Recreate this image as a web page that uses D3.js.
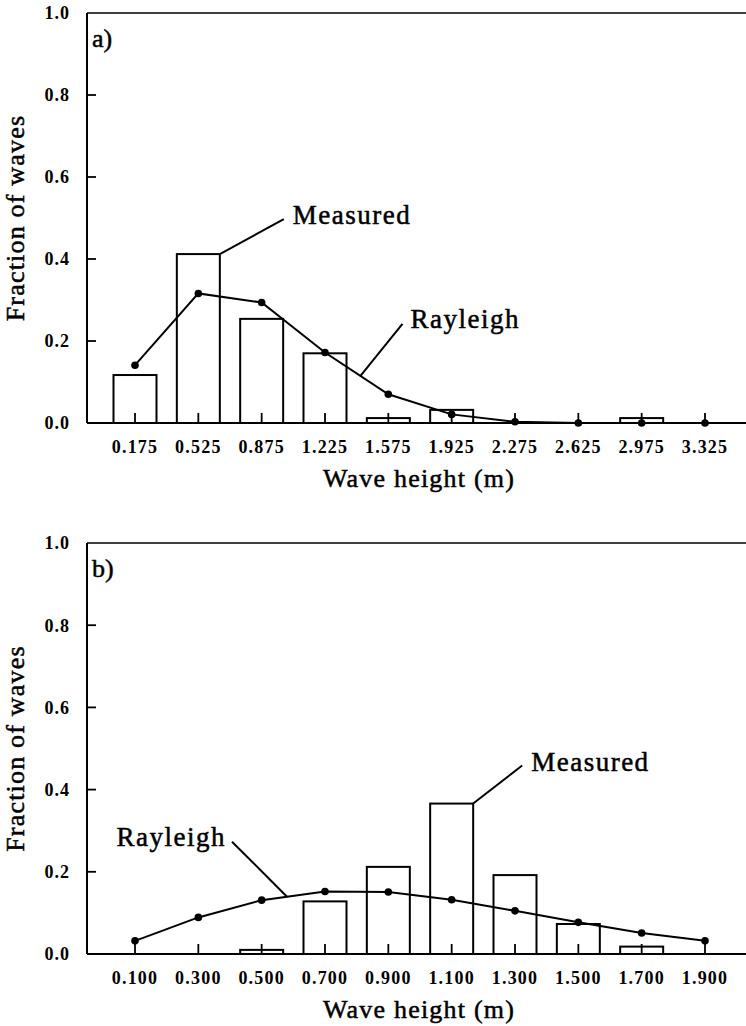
<!DOCTYPE html>
<html>
<head>
<meta charset="utf-8">
<script src="https://cdn.jsdelivr.net/npm/d3@7"></script>
<style>
  body { margin: 0; background: #fff; }
  svg text { font-family: "Liberation Serif", "Times New Roman", serif; fill: #000; }
  svg text.heavy { stroke: #000; stroke-width: 0.5px; }
</style>
</head>
<body>
<div id="chart"></div>
<script>
// panel a) data
const catsA = ["0.175", "0.525", "0.875", "1.225", "1.575", "1.925", "2.275", "2.625", "2.975", "3.325"];
const measuredA = [0.117, 0.412, 0.254, 0.170, 0.012, 0.032, 0, 0, 0.012, 0];
const rayleighA = [0.141, 0.316, 0.294, 0.172, 0.070, 0.021, 0.003, 0.0, 0.0, 0.0];

// panel b) data
const catsB = ["0.100", "0.300", "0.500", "0.700", "0.900", "1.100", "1.300", "1.500", "1.700", "1.900"];
const measuredB = [0, 0, 0.010, 0.128, 0.212, 0.366, 0.192, 0.073, 0.018, 0];
const rayleighB = [0.032, 0.089, 0.131, 0.152, 0.151, 0.132, 0.105, 0.077, 0.051, 0.032];

const yTicks = [0, 0.2, 0.4, 0.6, 0.8, 1.0];

const W = 746, H = 1026;
const svg = d3.select("#chart").append("svg")
    .attr("width", W)
    .attr("height", H);

drawPanel({
    top: 13, bottom: 423, label: "a)",
    cats: catsA, measured: measuredA, rayleigh: rayleighA,
    measuredNote: {dx: 64, dy: -35},
    rayleighNote: {seg: 3, t: 0.56, dx: 42, dy: -52, side: "right"}
});

drawPanel({
    top: 543, bottom: 954, label: "b)",
    cats: catsB, measured: measuredB, rayleigh: rayleighB,
    measuredNote: {dx: 49, dy: -38},
    rayleighNote: {seg: 2, t: 0.4, dx: -55, dy: -55, side: "left"}
});

function drawPanel(p) {
    const left = 87, right = W;
    const barW = 43;

    const g = svg.append("g");

    const x = d3.scalePoint()
        .domain(p.cats)
        .range([135, 705]);

    const y = d3.scaleLinear()
        .domain([0, 1])
        .range([p.bottom, p.top]);

    // bars (measured)
    g.selectAll(".bar")
        .data(p.measured)
        .enter().append("rect")
        .attr("class", "bar")
        .attr("x", (d, i) => x(p.cats[i]) - barW / 2)
        .attr("y", d => y(d))
        .attr("width", barW)
        .attr("height", d => y(0) - y(d))
        .attr("fill", "none")
        .attr("stroke", "#000")
        .attr("stroke-width", 2);

    // category ticks on the x axis (pointing up)
    g.selectAll(".xtick")
        .data(p.cats)
        .enter().append("line")
        .attr("x1", d => x(d)).attr("x2", d => x(d))
        .attr("y1", y(0)).attr("y2", y(0) - 10)
        .attr("stroke", "#000").attr("stroke-width", 1.8);

    // rayleigh line + dots
    const line = d3.line()
        .x((d, i) => x(p.cats[i]))
        .y(d => y(d));

    g.append("path")
        .datum(p.rayleigh)
        .attr("d", line)
        .attr("fill", "none")
        .attr("stroke", "#000")
        .attr("stroke-width", 2);

    g.selectAll(".dot")
        .data(p.rayleigh)
        .enter().append("circle")
        .attr("cx", (d, i) => x(p.cats[i]))
        .attr("cy", d => y(d))
        .attr("r", 3.8)
        .attr("fill", "#000");

    // axes frame: left, bottom, top
    g.append("line").attr("x1", left).attr("x2", left).attr("y1", p.top).attr("y2", p.bottom)
        .attr("stroke", "#000").attr("stroke-width", 2);
    g.append("line").attr("x1", left).attr("x2", right).attr("y1", p.bottom).attr("y2", p.bottom)
        .attr("stroke", "#000").attr("stroke-width", 2);
    g.append("line").attr("x1", left).attr("x2", right).attr("y1", p.top).attr("y2", p.top)
        .attr("stroke", "#000").attr("stroke-width", 1.5);

    // y ticks (inward)
    g.selectAll(".ytick")
        .data(yTicks.filter(d => d > 0 && d < 1))
        .enter().append("line")
        .attr("x1", left).attr("x2", left + 9)
        .attr("y1", d => y(d)).attr("y2", d => y(d))
        .attr("stroke", "#000").attr("stroke-width", 1.8);

    g.selectAll(".ylab")
        .data(yTicks)
        .enter().append("text")
        .attr("x", 70)
        .attr("y", d => y(d))
        .attr("dy", "0.36em")
        .attr("text-anchor", "end")
        .style("font-size", "18px")
        .style("font-weight", "bold")
        .style("letter-spacing", "1px")
        .text(d => d3.format(".1f")(d));

    // x tick labels
    g.selectAll(".xlab")
        .data(p.cats)
        .enter().append("text")
        .attr("x", d => x(d))
        .attr("y", p.bottom + 30)
        .attr("text-anchor", "middle")
        .style("font-size", "18px")
        .style("font-weight", "bold")
        .style("letter-spacing", "1.2px")
        .text(d => d);

    // axis titles
    g.append("text")
        .attr("class", "heavy")
        .attr("x", 419)
        .attr("y", p.bottom + 64)
        .attr("text-anchor", "middle")
        .style("font-size", "26px")
        .style("letter-spacing", "1.2px")
        .text("Wave height (m)");

    g.append("text")
        .attr("class", "heavy")
        .attr("transform", `translate(24, ${(p.top + p.bottom) / 2}) rotate(-90)`)
        .attr("text-anchor", "middle")
        .style("font-size", "26px")
        .style("letter-spacing", "1.2px")
        .text("Fraction of waves");

    // panel label
    g.append("text")
        .attr("class", "heavy")
        .attr("x", 92)
        .attr("y", p.top + 34)
        .style("font-size", "26px")
        .text(p.label);

    // "Measured" note: leader from top-right corner of tallest bar
    const iMax = d3.maxIndex(p.measured);
    const mx = x(p.cats[iMax]) + barW / 2, my = y(p.measured[iMax]);
    const mn = p.measuredNote;
    g.append("line")
        .attr("x1", mx).attr("y1", my)
        .attr("x2", mx + mn.dx).attr("y2", my + mn.dy)
        .attr("stroke", "#000").attr("stroke-width", 2);
    g.append("text")
        .attr("class", "heavy")
        .attr("x", mx + mn.dx + 9)
        .attr("y", my + mn.dy + 5)
        .style("font-size", "27px")
        .style("letter-spacing", "1.5px")
        .text("Measured");

    // "Rayleigh" note: leader from a point on the curve
    const rn = p.rayleighNote;
    const x0 = x(p.cats[rn.seg]), x1 = x(p.cats[rn.seg + 1]);
    const y0 = y(p.rayleigh[rn.seg]), y1 = y(p.rayleigh[rn.seg + 1]);
    const rx = x0 + (x1 - x0) * rn.t, ry = y0 + (y1 - y0) * rn.t;
    g.append("line")
        .attr("x1", rx).attr("y1", ry)
        .attr("x2", rx + rn.dx).attr("y2", ry + rn.dy)
        .attr("stroke", "#000").attr("stroke-width", 2);
    g.append("text")
        .attr("class", "heavy")
        .attr("x", rn.side === "right" ? rx + rn.dx + 8 : rx + rn.dx - 6)
        .attr("y", ry + rn.dy + 4)
        .attr("text-anchor", rn.side === "right" ? "start" : "end")
        .style("font-size", "27px")
        .style("letter-spacing", "1.5px")
        .text("Rayleigh");
}
</script>
</body>
</html>
